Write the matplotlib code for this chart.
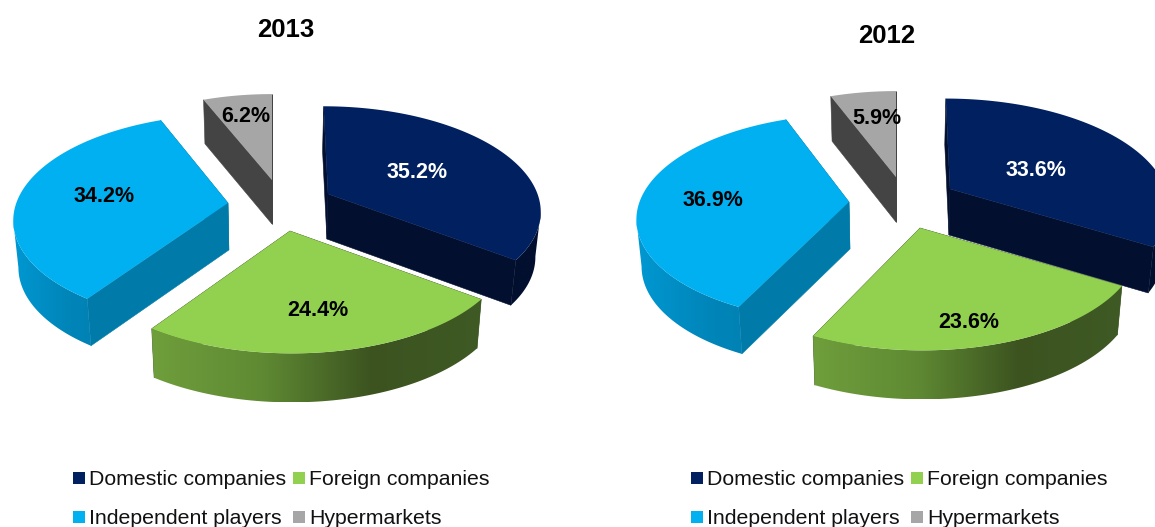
import numpy as np
import matplotlib
matplotlib.use('Agg')
import matplotlib.pyplot as plt
from matplotlib.colors import LinearSegmentedColormap
from matplotlib.patches import Polygon, Rectangle

plt.rcParams['font.family'] = ['Liberation Sans', 'DejaVu Sans']
plt.rcParams['path.simplify'] = False  # it spoils the long clip paths of the rims

# Data
categories = ['Domestic companies', 'Foreign companies', 'Independent players', 'Hypermarkets']
years = ['2013', '2012']
values_2013 = [35.2, 24.4, 34.2, 6.2]
values_2012 = [33.6, 23.6, 36.9, 5.9]

# Slice styles, same order as categories
top_colors = ['#002060', '#92d050', '#00b0f0', '#a6a6a6']
cut_colors = ['#020f2e', '#3f5a24', '#007ba9', '#444444']
side_ramps = [
    ['#020f2e', '#020f2e'],
    ['#6f9e3c', '#5f8a33', '#3c5320', '#3f5a24'],
    ['#0098d2', '#008fc6', '#0086ba', '#0082b4'],
    ['#444444', '#444444'],
]
label_colors = ['white', 'black', 'black', 'black']

# Layout in pixels of the 1155x527 picture
a, b, k = 216, 104, 0.15
pies = [
    dict(values=values_2013, center=(272, 197), title_xy=(286, 30),
         shifts=[(56, -3), (18, 34), (-44, 6), (0, -17)],
         scales=[0.97, 1.0, 0.98, 0.95], depths=[45, 49, 47, 44],
         label_xy=[(417, 173), (318, 311), (104, 197), (246, 117)],
         legend_x=[73, 293]),
    dict(values=values_2012, center=(896, 195), title_xy=(887, 36),
         shifts=[(54, -6), (24, 33), (-47, 7), (0, -18)],
         scales=[1.0, 1.0, 0.97, 0.95], depths=[46, 49, 47, 45],
         label_xy=[(1036, 170), (969, 322), (713, 200), (877, 119)],
         legend_x=[691, 911]),
]
legend_rows = [(0, 478), (1, 478), (0, 517), (1, 517)]


def project(t, apex, scale, vp_x):
    # t is clockwise from 12 o'clock, the disc is tilted with some perspective
    u, v = np.sin(t), np.cos(t)
    w = 1 + k * v
    x = apex[0] + scale * a * u / w + 0.6 * (apex[0] - vp_x) * (1 / w - 1)
    y = apex[1] - scale * b * v / w
    return x, y


def drop(x, y, depth, vp_x):
    # lower rim of a slice, pulled in a little towards the vanishing point
    return vp_x + (np.asarray(x) - vp_x) * 0.98, np.asarray(y) + depth


def draw_slice(ax, t0, t1, apex, scale, depth, vp_x, top, cut, ramp, z):
    t = np.linspace(t0, t1, 160)
    x, y = project(t, apex, scale, vp_x)
    xb, yb = drop(x, y, depth, vp_x)
    ax_b, ay_b = drop(apex[0], apex[1], depth, vp_x)

    # cut faces
    for i in (0, -1):
        quad = [apex, (x[i], y[i]), (xb[i], yb[i]), (ax_b, ay_b)]
        ax.add_patch(Polygon(quad, closed=True, fc=cut, ec=cut, lw=0.4, zorder=z))

    # only the front of the rim shows, the back part would cancel it in the clip
    keep = np.cos(t) < 0
    if t0 < np.pi / 2 < t1:
        keep = t >= t[np.argmax(x)]
    elif t0 < 3 * np.pi / 2 < t1:
        keep = t <= t[np.argmin(x)]

    if keep.sum() > 1:
        # outer rim as a gradient image clipped to the rim shape
        rim = np.vstack([np.column_stack([x[keep], y[keep]]),
                         np.column_stack([xb[keep], yb[keep]])[::-1]])
        rim_patch = Polygon(rim, closed=True, fc='none', ec='none', transform=ax.transData)
        ax.add_patch(rim_patch)
        cmap = LinearSegmentedColormap.from_list('rim', ramp)
        grad = np.linspace(0, 1, 256).reshape(1, -1)
        img = ax.imshow(grad, cmap=cmap, aspect='auto', interpolation='bilinear', zorder=z + 0.1,
                        extent=(rim[:, 0].min(), rim[:, 0].max(), rim[:, 1].max(), rim[:, 1].min()))
        img.set_clip_path(rim_patch)

    # top face
    pts = np.vstack([[apex], np.column_stack([x, y])])
    ax.add_patch(Polygon(pts, closed=True, fc=top, ec='none', zorder=z + 0.2))


fig = plt.figure(figsize=(11.55, 5.27), dpi=100)
ax = fig.add_axes([0, 0, 1, 1])
ax.axis('off')

for year, pie in zip(years, pies):
    ends = np.cumsum(pie['values']) / np.sum(pie['values']) * 2 * np.pi
    starts = np.concatenate([[0], ends[:-1]])
    vp_x, cy = pie['center']

    # back slices first, green last since it sits in front of the others
    for z, i in enumerate([3, 2, 0, 1]):
        apex = (vp_x + pie['shifts'][i][0], cy + pie['shifts'][i][1])
        draw_slice(ax, starts[i], ends[i], apex, pie['scales'][i], pie['depths'][i],
                   vp_x, top_colors[i], cut_colors[i], side_ramps[i], z + 1)

    for i, val in enumerate(pie['values']):
        lx, ly = pie['label_xy'][i]
        ax.text(lx, ly, f'{val:.1f}%', ha='center', va='center', fontsize=15.5,
                fontweight='bold', color=label_colors[i], zorder=6)

    ax.text(pie['title_xy'][0], pie['title_xy'][1], year, ha='center', va='center',
            fontsize=18.5, fontweight='bold', color='black')

    for i, name in enumerate(categories):
        col, ly = legend_rows[i]
        mx = pie['legend_x'][col]
        ax.add_patch(Rectangle((mx, ly - 6), 12, 12, fc=top_colors[i], ec='none'))
        ax.text(mx + 16, ly + 7, name, ha='left', va='baseline', fontsize=15.3,
                color='#111111')

ax.set_xlim(0, 1155)
ax.set_ylim(527, 0)
fig.savefig('out.png', dpi=100)
